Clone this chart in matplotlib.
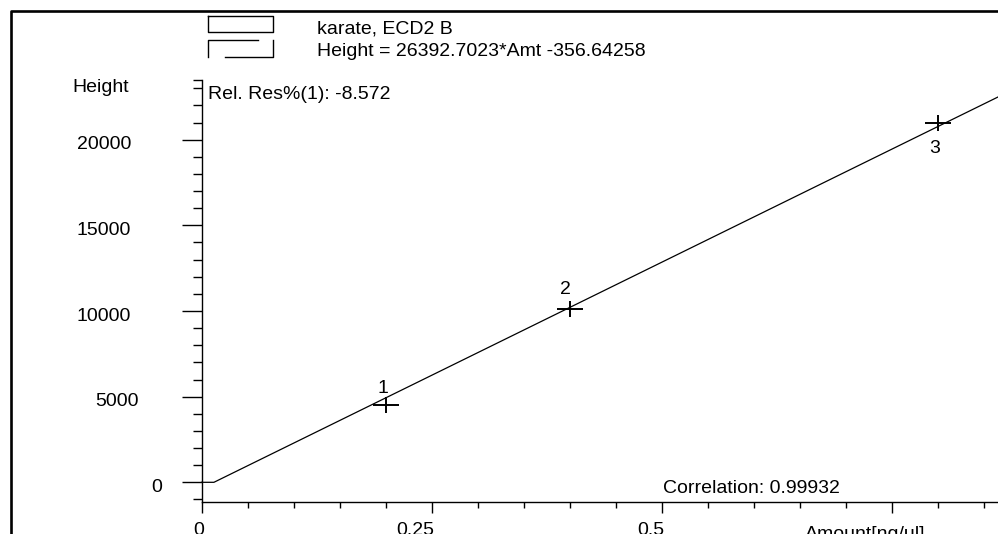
import matplotlib
matplotlib.use('Agg')
import matplotlib.pyplot as plt
from matplotlib.ticker import MultipleLocator, FixedLocator
from matplotlib.transforms import ScaledTranslation
from matplotlib.lines import Line2D
from matplotlib.path import Path

# ---- dati della taratura ----
amount = [0.2, 0.4, 0.8]              # ng/ul
height = [4510, 10120, 20950]         # Height
level_ids = ['1', '2', '3']
slope = 26392.7023
intercept = -356.64258
x_major = [0, 0.25, 0.5, 0.75]
x_labels = ['0', '0.25', '0.5', '']
y_major = [0, 5000, 10000, 15000, 20000]
y_labels = ['0', '5000', '10000', '15000', '20000']

W, H = 998, 534
plt.rcParams['font.family'] = ['Liberation Sans', 'DejaVu Sans']
FS = 14


def fx(x):
    return x / W


def fy(y):
    return 1 - y / H


fig = plt.figure(figsize=(W / 100, H / 100), dpi=100)

# assi: posizione in pixel come nel riferimento
x0_px, y_axis_px, top_px = 201.5, 502.3, 80
ax = fig.add_axes([fx(x0_px), fy(y_axis_px), 1 - fx(x0_px), (y_axis_px - top_px) / H])
xmax = (W - x0_px) / 920
ymin = -(y_axis_px - 482.3) / 17.13 * 1000
ymax = (482.3 - top_px) / 17.13 * 1000
ax.set_xlim(0, xmax)
ax.set_ylim(ymin, ymax)

for s in ['top', 'right']:
    ax.spines[s].set_visible(False)
for s in ['left', 'bottom']:
    ax.spines[s].set_linewidth(1.0)

# curva di taratura (clamp a zero)
x_cut = -intercept / slope
line_x = [0, x_cut, xmax]
line_y = [max(0, slope * v + intercept) for v in line_x]
ax.plot(line_x, line_y, color='black', lw=0.9, clip_on=False)

# punti: croce piu' larga che alta
cross = Path([(-1, 0), (1, 0), (0, -0.57), (0, 0.57)],
             [Path.MOVETO, Path.LINETO, Path.MOVETO, Path.LINETO])
ax.plot(amount, height, linestyle='none', marker=cross, ms=19, mew=1.4,
        color='black')
offsets = [(-3, 17), (-4, 19), (-3, -25)]
for xa, ya, lab, off in zip(amount, height, level_ids, offsets):
    ax.annotate(lab, (xa, ya), xytext=off, textcoords='offset pixels',
                ha='center', va='center', fontsize=FS)

# tick
ax.xaxis.set_major_locator(FixedLocator(x_major))
ax.set_xticklabels(x_labels)
ax.xaxis.set_minor_locator(MultipleLocator(0.05))
ax.yaxis.set_major_locator(FixedLocator(y_major))
ax.set_yticklabels(y_labels)
ax.yaxis.set_minor_locator(FixedLocator(list(range(-1000, 24000, 1000)) + [ymax]))

ax.tick_params(axis='x', which='major', length=8, width=1, pad=6.5, labelsize=FS)
ax.tick_params(axis='x', which='minor', length=4, width=1)
ax.tick_params(axis='y', which='major', length=14.5, width=1, pad=14, labelsize=FS)
ax.tick_params(axis='y', which='minor', length=6.5, width=1)

for lab in ax.get_xticklabels():
    lab.set_horizontalalignment('right')
    lab.set_transform(lab.get_transform() + ScaledTranslation(0.03, 0, fig.dpi_scale_trans))
for lab in ax.get_yticklabels():
    n = len(lab.get_text())
    lab.set_horizontalalignment('right')
    lab.set_transform(lab.get_transform() +
                      ScaledTranslation(-0.077 * (n - 1), -0.03, fig.dpi_scale_trans))

ax.set_xlabel('Amount[ng/ul]', fontsize=FS, ha='right')
ax.xaxis.set_label_coords((925 - x0_px) / (W - x0_px), 0)
ax.xaxis.label.set_verticalalignment('top')
ax.xaxis.label.set_transform(ax.transAxes + ScaledTranslation(0, -0.235, fig.dpi_scale_trans))

# testi
fig.text(fx(72), fy(92), 'Height', fontsize=FS, ha='left', va='baseline')
fig.text(fx(208), fy(99), 'Rel. Res%(1): -8.572', fontsize=FS, ha='left', va='baseline')
fig.text(fx(317), fy(33), 'karate, ECD2 B', fontsize=FS, ha='left', va='baseline')
fig.text(fx(317), fy(56), 'Height = 26392.7023*Amt -356.64258', fontsize=FS,
         ha='left', va='baseline')
fig.text(fx(663), fy(493), 'Correlation: 0.99932', fontsize=FS, ha='left', va='baseline')

# simboli legenda
def seg(xs, ys, lw=1.0):
    fig.add_artist(Line2D([fx(v) for v in xs], [fy(v) for v in ys],
                          color='black', lw=lw, transform=fig.transFigure))


seg([208, 273, 273, 208, 208], [16, 16, 32, 32, 16])
seg([208, 208, 258], [57, 40, 40])
seg([225, 273, 273], [57, 57, 40])

# cornice
seg([10.5, 10.5, W], [H, 10.5, 10.5], lw=1.9)

fig.savefig('out.png', dpi=100)
